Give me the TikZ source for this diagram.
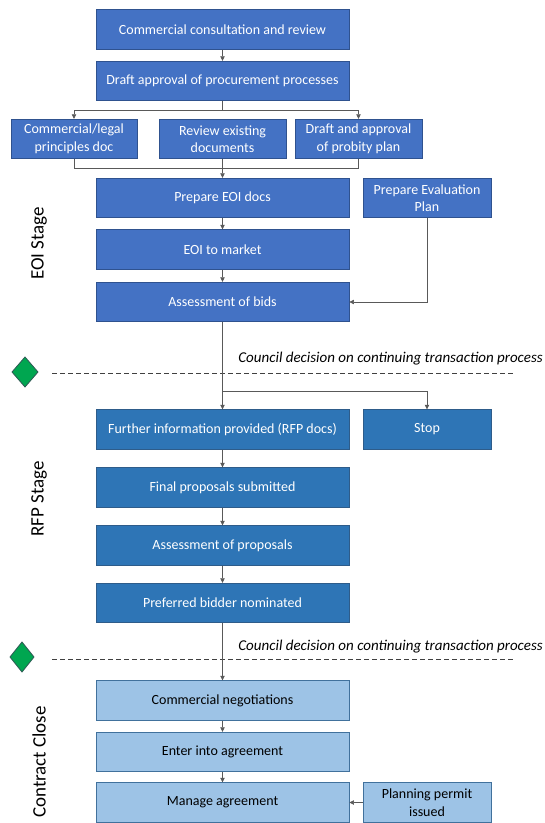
\documentclass[tikz,border=0pt]{standalone}
\usepackage{fontspec}
\setmainfont{Carlito}
\usetikzlibrary{arrows.meta}
\definecolor{eoiFill}{HTML}{4472C4}
\definecolor{eoiLine}{HTML}{2F528F}
\definecolor{rfpFill}{HTML}{2E75B6}
\definecolor{rfpLine}{HTML}{2E5C8A}
\definecolor{ccFill}{HTML}{9DC3E6}
\definecolor{ccLine}{HTML}{41719C}
\definecolor{gemFill}{HTML}{00A650}
\definecolor{gemLine}{HTML}{2F5A55}
\definecolor{conn}{HTML}{595959}
\tikzset{
  boxbase/.style={draw, line width=0.9pt, minimum height=39.5pt, inner sep=1pt, align=center, font=\fontsize{14}{17.5}\selectfont},
  eoibox/.style={boxbase, fill=eoiFill, draw=eoiLine, text=white},
  rfpbox/.style={boxbase, fill=rfpFill, draw=rfpLine, text=white},
  ccbox/.style={boxbase, fill=ccFill, draw=ccLine, text=black},
  mainw/.style={minimum width=253pt},
  sidew/.style={minimum width=127pt},
  link/.style={draw=conn, line width=0.7pt},
  arr/.style={link, -{Triangle[width=4.5pt,length=4.5pt]}},
  stagelabel/.style={rotate=90, font=\fontsize{19}{22}\selectfont},
  decision/.style={font=\fontsize{15}{17}\itshape\selectfont, anchor=east, inner sep=0},
  divider/.style={draw=black!75, line width=0.6pt, dash pattern=on 5pt off 3pt},
  gem/.style={fill=gemFill, draw=gemLine, line width=0.8pt, line join=round}
}
\begin{document}
\begin{tikzpicture}[x=1pt,y=-1pt]
\useasboundingbox (0,0) rectangle (545,823);

% EOI stage boxes
\node[eoibox, mainw] (b1) at (222.5,29.5) {Commercial consultation and review};
\node[eoibox, mainw] (b2) at (222.5,81) {Draft approval of procurement processes};
\node[eoibox, minimum width=126pt] (sL) at (74,139) {Commercial/legal\\principles doc};
\node[eoibox, sidew] (sM) at (222.5,139) {Review existing\\documents};
\node[eoibox, sidew] (sR) at (358.5,139) {Draft and approval\\of probity plan};
\node[eoibox, mainw] (eoi) at (222.5,198) {Prepare EOI docs};
\node[eoibox, minimum width=128pt] (eval) at (427,198) {Prepare Evaluation\\Plan};
\node[eoibox, mainw] (market) at (222.5,249.5) {EOI to market};
\node[eoibox, mainw] (bids) at (222.5,302) {Assessment of bids};

% RFP stage boxes
\node[rfpbox, mainw] (further) at (222.5,429.5) {Further information provided (RFP docs)};
\node[rfpbox, minimum width=128pt] (stop) at (427,429.5) {Stop};
\node[rfpbox, mainw] (final) at (222.5,487.5) {Final proposals submitted};
\node[rfpbox, mainw] (assess) at (222.5,545.5) {Assessment of proposals};
\node[rfpbox, mainw] (pref) at (222.5,603) {Preferred bidder nominated};

% Contract close boxes
\node[ccbox, mainw] (neg) at (222.5,700.5) {Commercial negotiations};
\node[ccbox, mainw] (enter) at (222.5,752) {Enter into agreement};
\node[ccbox, mainw] (manage) at (222.5,802.5) {Manage agreement};
\node[ccbox, minimum width=128pt] (permit) at (427,802.5) {Planning permit\\issued};

% stage labels
\node[stagelabel] (lEOI) at (39,243.5) {EOI Stage};
\node[stagelabel] (lRFP) at (39,499) {RFP Stage};
\node[stagelabel] (lCC) at (39,762) {Contract Close};

% decision gates
\draw[divider] (52,373.3) -- (515,373.3);
\draw[divider] (52,659.3) -- (515,659.3);
\draw[gem] (25,357) -- (38,372) -- (25,387) -- (12,372) -- cycle;
\draw[gem] (22,642) -- (34,657) -- (22,672) -- (10,657) -- cycle;
\node[decision] (d1) at (543,359) {Council decision on continuing transaction process};
\node[decision] (d2) at (543,646.5) {Council decision on continuing transaction process};

% connectors
\coordinate (split1) at (222.5,110.5);
\coordinate (split2) at (222.5,391);
\draw[arr] (b1.south) -- (b2.north);
\draw[link] (b2.south) -- (split1);
\draw[arr] (split1) -| (sL.north);
\draw[arr] (split1) -| (sR.north);
\draw[link] (sL.south) -- ++(0,9.3) -| (sR.south);
\draw[arr] (sM.south) -- (eoi.north);
\draw[arr] (eoi.south) -- (market.north);
\draw[arr] (market.south) -- (bids.north);
\draw[arr] (eval.south) |- (bids.east);
\draw[arr] (bids.south) -- (further.north);
\draw[arr] (split2) -| (stop.north);
\draw[arr] (further.south) -- (final.north);
\draw[arr] (final.south) -- (assess.north);
\draw[arr] (assess.south) -- (pref.north);
\draw[arr] (pref.south) -- (neg.north);
\draw[arr] (neg.south) -- (enter.north);
\draw[arr] (enter.south) -- (manage.north);
\draw[arr] (permit.west) -- (manage.east);
\end{tikzpicture}
\end{document}
